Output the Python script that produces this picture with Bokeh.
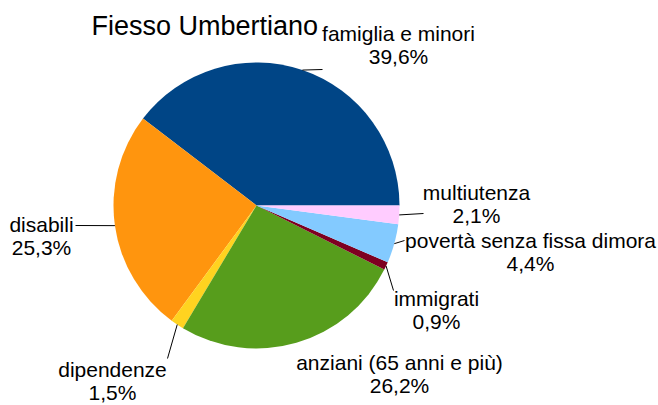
import math
from bokeh.plotting import figure
from bokeh.models import Range1d
from bokeh.core.properties import value
from bokeh.embed import file_html
from bokeh.resources import INLINE

# ---- data ----
categories = ["famiglia e minori", "disabili", "dipendenze", "anziani (65 anni e più)",
              "immigrati", "povertà senza fissa dimora", "multiutenza"]
percentages = [39.6, 25.3, 1.5, 26.2, 0.9, 4.4, 2.1]
colors = ["#004586", "#ff950e", "#ffd320", "#579d1c", "#7e0021", "#83caff", "#ffccff"]
title_text = "Fiesso Umbertiano"

# ---- layout (picture pixel coords of label centres, leader-line ends) ----
W, H = 658, 405
center_px = (256, 205)
radius_px = 143
label_pos = [(398, 33), (41, 224), (112, 369), (399, 362), (436, 298), (530, 240), (476, 192)]
leader_end = [(322, 69), (75, 225), (167, 358), None, (393, 290), (404, 240), (423, 213)]
line_gap = 23
FONT = "Liberation Sans"


def dx(sx):
    return sx


def dy(sy):
    return H - sy


p = figure(width=W, height=H, output_backend="svg", toolbar_location=None,
           x_axis_location=None, y_axis_location=None, min_border=0,
           x_range=Range1d(0, W), y_range=Range1d(0, H))
p.grid.visible = False
p.outline_line_color = None
p.background_fill_color = "white"
p.border_fill_color = "white"

total = sum(percentages)
cx, cy = dx(center_px[0]), dy(center_px[1])
starts, ends, mids = [], [], []
acc = 0.0
for v in percentages:
    a0 = acc / total * 2 * math.pi
    acc += v
    a1 = acc / total * 2 * math.pi
    starts.append(a0)
    ends.append(a1)
    mids.append((a0 + a1) / 2)

p.wedge(x=[cx] * len(percentages), y=[cy] * len(percentages), radius=radius_px,
        start_angle=starts, end_angle=ends, fill_color=colors, line_color=None)

# leader lines
xs, ys = [], []
for m, e in zip(mids, leader_end):
    if e is None:
        continue
    x0 = cx + radius_px * math.cos(m)
    y0 = cy + radius_px * math.sin(m)
    xs.append([x0, dx(e[0])])
    ys.append([y0, dy(e[1])])
p.multi_line(xs=xs, ys=ys, line_color="black", line_width=1)

# labels
names_x = [dx(a) for a, b in label_pos]
names_y = [dy(b) for a, b in label_pos]
pct_y = [dy(b + line_gap) for a, b in label_pos]
pct_text = [("%.1f%%" % v).replace(".", ",") for v in percentages]
p.text(x=names_x, y=names_y, text=categories, text_align="center", text_baseline="middle",
       text_font=value(FONT), text_font_size="21px", text_color="black")
p.text(x=names_x, y=pct_y, text=pct_text, text_align="center", text_baseline="middle",
       text_font=value(FONT), text_font_size="21px", text_color="black")

# title
p.text(x=[dx(91)], y=[dy(25)], text=[title_text], text_align="left", text_baseline="middle",
       text_font=value(FONT), text_font_size="27px", text_color="black")

open("out.html", "w").write(file_html(p, INLINE))
